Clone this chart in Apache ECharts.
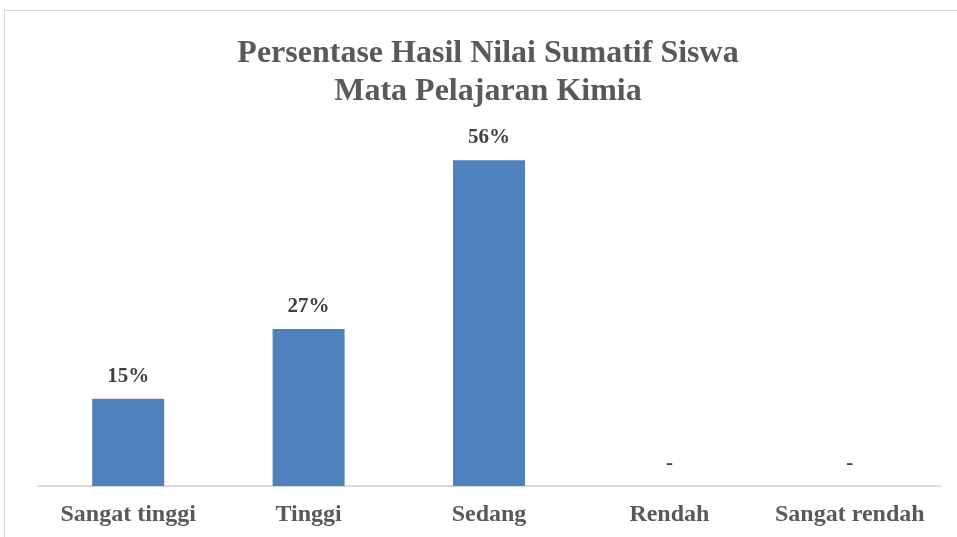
<!DOCTYPE html>
<html>
<head>
<meta charset="utf-8">
<script src="https://cdn.jsdelivr.net/npm/echarts@6/dist/echarts.min.js"></script>
<style>
  html, body { margin: 0; padding: 0; background: #fff; }
  #frame { position: absolute; left: 4px; top: 10px; width: 960px; height: 540px; border: 1px solid #d9d9d9; }
  #chart { position: absolute; left: 0; top: 0; width: 957px; height: 537px; }
</style>
</head>
<body>
<div id="frame"></div>
<div id="chart"></div>
<script>
var categories = ['Sangat tinggi', 'Tinggi', 'Sedang', 'Rendah', 'Sangat rendah'];
var percentValues = [15, 27, 56, 0, 0];

var chart = echarts.init(document.getElementById('chart'));
chart.setOption({
    animation: false,
    title: {
        text: 'Persentase Hasil Nilai Sumatif Siswa\nMata Pelajaran Kimia',
        left: 483,
        top: 30,
        textAlign: 'center',
        textStyle: {
            fontFamily: 'Liberation Serif',
            fontSize: 32,
            fontWeight: 'bold',
            color: '#595959',
            lineHeight: 38
        }
    },
    grid: {
        left: 38,
        right: 17,
        top: 137,
        bottom: 51
    },
    xAxis: {
        type: 'category',
        data: categories,
        axisLine: { lineStyle: { color: '#d9d9d9', width: 2 } },
        axisTick: { show: false },
        axisLabel: {
            interval: 0,
            margin: 17,
            fontFamily: 'Liberation Serif',
            fontSize: 24,
            fontWeight: 'bold',
            color: '#595959'
        }
    },
    yAxis: {
        type: 'value',
        min: 0,
        max: 60,
        show: false,
        splitLine: { show: false }
    },
    series: [{
        type: 'bar',
        data: percentValues,
        barWidth: 72,
        itemStyle: { color: '#4f81bd' },
        label: {
            show: true,
            position: 'top',
            distance: 12,
            fontFamily: 'Liberation Serif',
            fontSize: 21,
            fontWeight: 'bold',
            color: '#404040',
            formatter: function (p) {
                return p.value === 0 ? '-' : p.value + '%';
            }
        }
    }]
});
</script>
</body>
</html>
